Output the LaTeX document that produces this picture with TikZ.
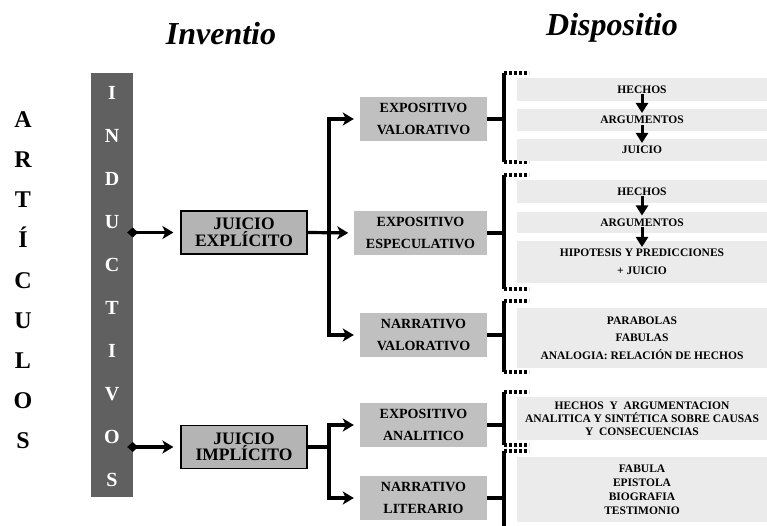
\documentclass[tikz,border=0pt]{standalone}
\usepackage{fontspec}
\setmainfont{Liberation Serif}
\usepackage{xcolor}
\usetikzlibrary{arrows.meta,calc}
\definecolor{barGray}{HTML}{606060}
\definecolor{boxGray}{HTML}{C0C0C0}
\definecolor{judgeGray}{HTML}{B4B4B4}
\definecolor{rowGray}{HTML}{EBEBEB}
\tikzset{
  title/.style={anchor=base, font=\fontsize{32}{32}\selectfont\bfseries\itshape},
  outer/.style={anchor=base, font=\fontsize{24}{24}\selectfont\bfseries},
  barletter/.style={anchor=base, white, font=\fontsize{20}{20}\selectfont\bfseries},
  judge/.style={draw=black, line width=1.2pt, fill=judgeGray, minimum width=126pt, minimum height=43pt,
    inner sep=0pt, align=center, font=\fontsize{17.5}{16.5}\selectfont\bfseries},
  genre/.style={fill=boxGray, minimum width=127pt, minimum height=44pt, inner xsep=11.5pt, inner ysep=0pt,
    align=center, font=\fontsize{14}{22}\selectfont\bfseries},
  detail/.style={fill=rowGray, minimum width=250pt, inner sep=0pt, align=center,
    font=\fontsize{11.5}{#1}\selectfont\bfseries},
  detail/.default=14,
  link/.style={draw=black, line width=3.2pt},
  arrow/.style={link, -{Stealth[length=11pt,width=13pt,inset=3pt]}, shorten >=6pt},
  start/.style={link, {Diamond[length=11pt,width=10pt]}-{Stealth[length=11pt,width=13pt,inset=3pt]}, shorten >=7pt},
  down/.style={draw=black, line width=3pt, -{Triangle[length=10pt,width=12pt]}},
  bracket/.style={draw=black, line width=3.2pt},
  dots/.style={draw=black, line width=3.2pt, dash pattern=on 3pt off 2pt}
}
\begin{document}
\begin{tikzpicture}[x=1pt,y=-1pt]
  \useasboundingbox (0,0) rectangle (767,526);
  \node[title] (inventio) at (221,45) {Inventio};
  \node[title] (dispositio) at (612,36) {Dispositio};
  \foreach \l [count=\i from 0] in {A,R,T,Í,C,U,L,O,S}
    \node[outer] (art-\i) at (23,128+40*\i) {\l};
  \node[fill=barGray, minimum width=42pt, minimum height=424pt, inner sep=0pt] (bar) at (112,285) {};
  \foreach \l [count=\i from 0] in {I,N,D,U,C,T,I,V,O,S}
    \node[barletter] (ind-\i) at (112,99.5+43*\i) {\l};

  \node[judge] (jexp) at (244,232.5) {JUICIO\\EXPLÍCITO};
  \node[judge] (jimp) at (244,447) {JUICIO\\IMPLÍCITO};
  \draw[start] ($(bar.east |- jexp)+(-6,0)$) -- (jexp.west);
  \draw[start] ($(bar.east |- jimp)+(-6,0)$) -- (jimp.west);

  \node[genre] (expval) at (423.5,119) {EXPOSITIVO\\VALORATIVO};
  \node[genre] (expesp) at (420.5,233) {EXPOSITIVO\\ESPECULATIVO};
  \node[genre] (narval) at (423.5,335) {NARRATIVO\\VALORATIVO};
  \node[genre] (expana) at (423.5,425) {EXPOSITIVO\\ANALITICO};
  \node[genre] (narlit) at (423.5,498) {NARRATIVO\\LITERARIO};

  \coordinate (spine) at (329,0);
  \draw[arrow] (spine |- narval) -- (spine |- expval) -- (expval.west);
  \draw[arrow] (spine |- expesp) -- (spine |- narval) -- (narval.west);
  \draw[arrow] (jexp.east) -- (expesp.west);
  \draw[link] (jimp.east) -- (spine |- jimp);
  \draw[arrow] (spine |- jimp) -- (spine |- expana) -- (expana.west);
  \draw[arrow] (spine |- jimp) -- (spine |- narlit) -- (narlit.west);

  \coordinate (bx) at (504,0);
  \foreach \ya/\yb/\src in {73/162/expval, 175/289/expesp, 301/372/narval, 392/445/expana, 451/526/narlit} {
    \draw[bracket] (504,\ya) -- (504,\yb);
    \draw[dots] (504,\ya) -- (529,\ya);
    \draw[link] (\src.east) -- (\src.east -| bx);
  }
  \foreach \yb in {162,289,372,445}
    \draw[dots] (504,\yb) -- (529,\yb);

  \node[detail, minimum height=23pt] (v1) at (642,89.5) {HECHOS};
  \node[detail, minimum height=22pt] (v2) at (642,120) {ARGUMENTOS};
  \node[detail, minimum height=22pt] (v3) at (642,150) {JUICIO};
  \node[detail, minimum height=23pt] (e1) at (642,191.5) {HECHOS};
  \node[detail, minimum height=21pt] (e2) at (642,222.5) {ARGUMENTOS};
  \node[detail=18, minimum height=42pt] (e3) at (642,262) {HIPOTESIS Y PREDICCIONES\\+ JUICIO};
  \node[detail=17.5, minimum height=60pt] (n1) at (642,338) {PARABOLAS\\FABULAS\\ANALOGIA: RELACIÓN DE HECHOS};
  \node[detail=13, minimum height=43pt] (a1) at (642,418.5) {HECHOS\ \ Y\ \ ARGUMENTACION\\ANALITICA Y SINTÉTICA SOBRE CAUSAS\\Y\ \ CONSECUENCIAS};
  \node[detail=14, minimum height=65pt] (l1) at (642,489.5) {FABULA\\EPISTOLA\\BIOGRAFIA\\TESTIMONIO};

  \draw[down, shorten <=5pt, shorten >=7pt] (v1.center) -- (v2.center);
  \draw[down, shorten <=5pt, shorten >=7pt] (v2.center) -- (v3.center);
  \draw[down, shorten <=5pt, shorten >=7pt] (e1.center) -- (e2.center);
  \draw[down, shorten <=5pt, shorten >=15pt] (e2.center) -- (e3.center);
\end{tikzpicture}
\end{document}
